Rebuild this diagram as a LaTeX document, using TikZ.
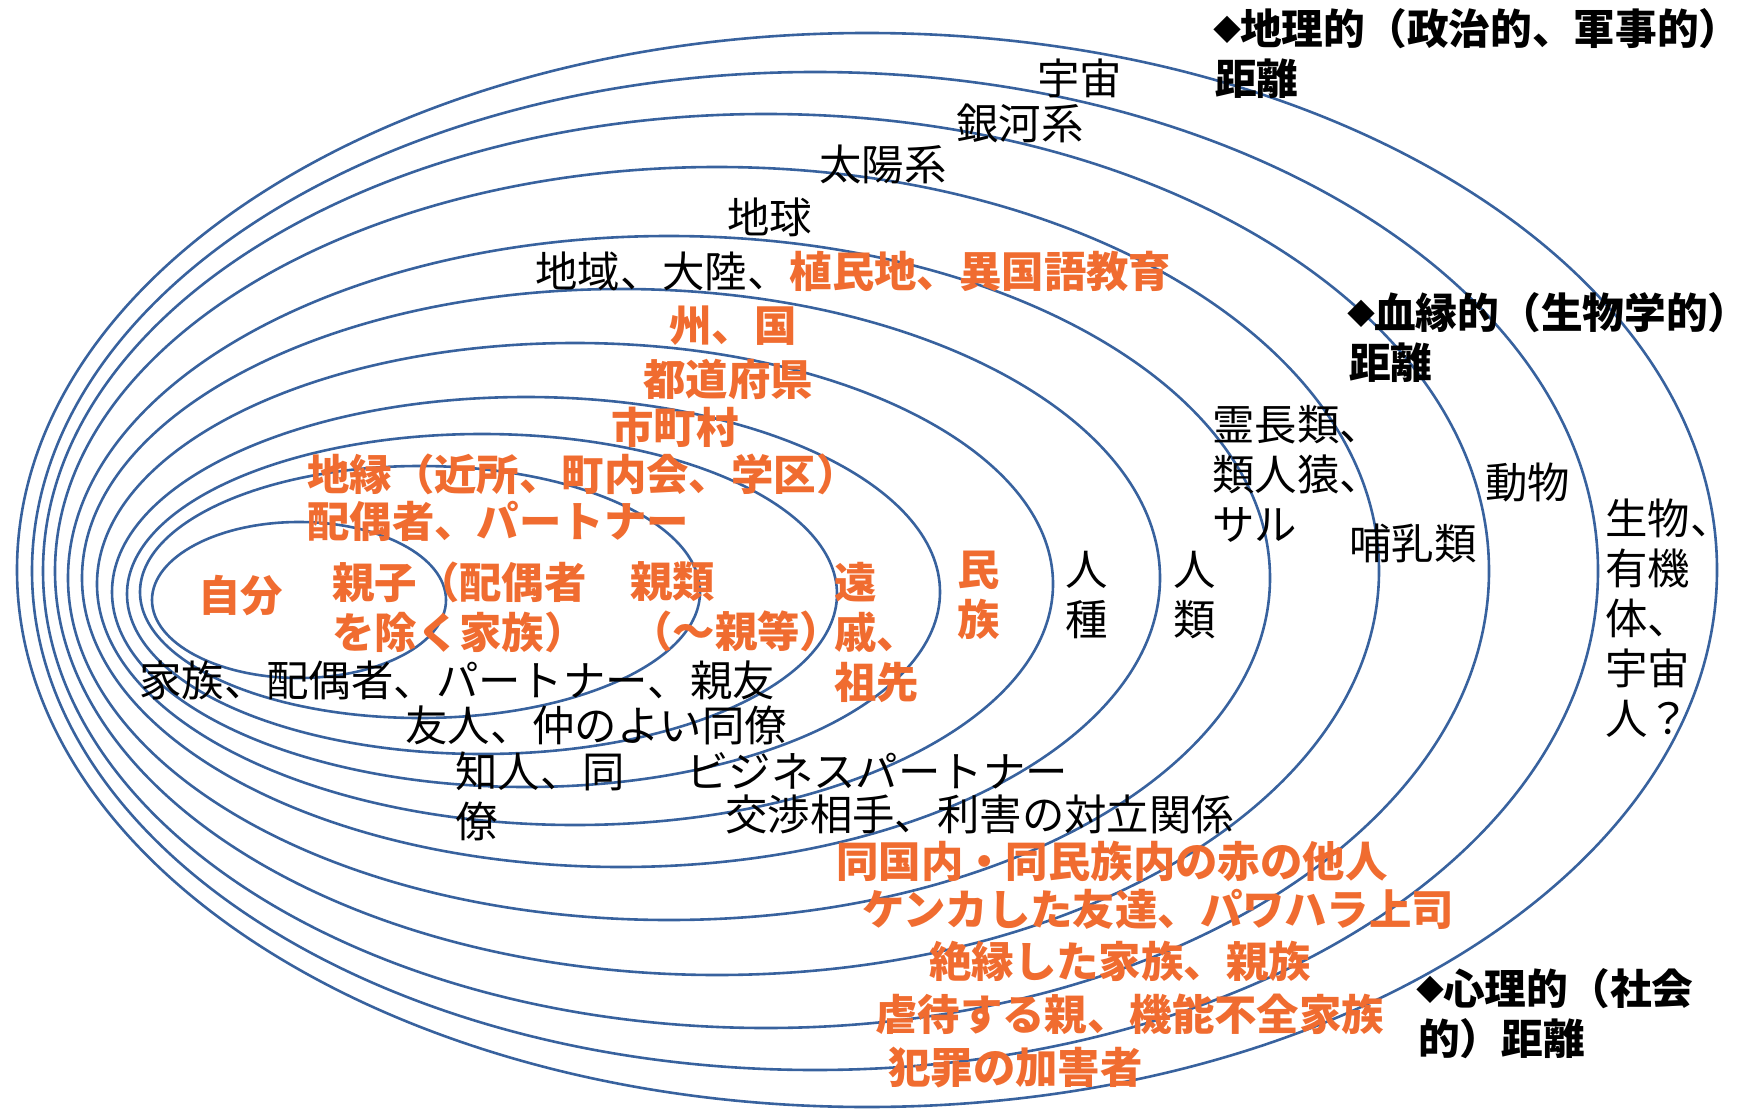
\documentclass[tikz,border=0pt]{standalone}
\usepackage{fontspec}
\setmainfont{Noto Sans CJK JP}
\definecolor{ringblue}{RGB}{56,98,158}
\definecolor{warm}{RGB}{240,108,48}
\newcommand\dmd{\raisebox{4pt}{\makebox[25pt][c]{\fontsize{28}{28}\selectfont ◆}}}

\begin{document}
\begin{tikzpicture}
	[x=1pt,y=-1pt,
	ring/.style={draw=ringblue,line width=2.6pt},
	every node/.style={inner sep=0pt,anchor=west,align=left,
		font=\fontsize{42.4}{50}\selectfont},
	hot/.style={text=warm,font=\fontsize{42.4}{50}\selectfont\bfseries},
	head/.style={font=\fontsize{41.7}{50}\selectfont\bfseries}]
	\useasboundingbox (0,0) rectangle (1748,1110);
	
	% rings, inside out
	\foreach \cx/\cy/\rx/\ry in {299/600/147/78, 420/592/280/126,
		482/594/355/160, 526/592/414/195, 575/584/478/241,
		621/578/539/289, 669/578/601/342, 717/571/662/404,
		766/571/723/457, 815/571/783/499, 867/570/850/537}
	\draw[ring] (\cx,\cy) ellipse [x radius=\rx pt, y radius=\ry pt];
	
	% geography
	\node (space) at (1037,78) {宇宙};
	\node (galaxy) at (956,123) {銀河系};
	\node (solar) at (819,164) {太陽系};
	\node (earth) at (727,217) {地球};
	\node (region) at (535,271) {地域、大陸、\textcolor{warm}{\bfseries 植民地、異国語教育}};
	\node[hot] (state) at (669,326) {州、国};
	\node[hot] (pref) at (643,379) {都道府県};
	\node[hot] (town) at (611,427) {市町村};
	\node[hot] (local) at (307,474) {地縁（近所、町内会、学区）};
	\node[hot] (spouse) at (307,521) {配偶者、パートナー};
	
	% blood
	\node[hot] (self) at (198,596) {自分};
	\node[hot] (kin) at (332,607) {親子（配偶者\\を除く家族）};
	\node[hot] (relat) at (630,607) {親類\\（～親等）};
	\node[hot] (far) at (834,632) {遠\\戚、\\祖先};
	\node[hot] (ethnic) at (957,595) {民\\族};
	\node (race) at (1065,595) {人\\種};
	\node (human) at (1173,595) {人\\類};
	\node (primate) at (1212,474) {霊長類、\\類人猿、\\サル};
	\node (mammal) at (1349,543) {哺乳類};
	\node (animal) at (1485,482) {動物};
	\node (life) at (1605,618) {生物、\\有機\\体、\\宇宙\\人？};
	
	% psychology
	\node (family) at (139,680) {家族、配偶者、パートナー、親友};
	\node (friend) at (405,725) {友人、仲のよい同僚};
	\node (acq) at (455,796) {知人、同\\僚};
	\node (biz) at (686,771) {ビジネスパートナー};
	\node (nego) at (725,814) {交渉相手、利害の対立関係};
	\node[hot] (stranger) at (836,861) {同国内・同民族内の赤の他人};
	\node[hot] (fight) at (862,909) {ケンカした友達、パワハラ上司};
	\node[hot] (cutoff) at (929,961) {絶縁した家族、親族};
	\node[hot] (abuse) at (875,1014) {虐待する親、機能不全家族};
	\node[hot] (crime) at (888,1068) {犯罪の加害者};
	
	% axis titles
	\node[head] (geo) at (1215,54) {\dmd 地理的（政治的、軍事的）\\距離};
	\node[head] (blood) at (1349,338) {\dmd 血縁的（生物学的）\\距離};
	\node[head] (psy) at (1418,1014) {\dmd 心理的（社会\\的）距離};
\end{tikzpicture}
\end{document}
